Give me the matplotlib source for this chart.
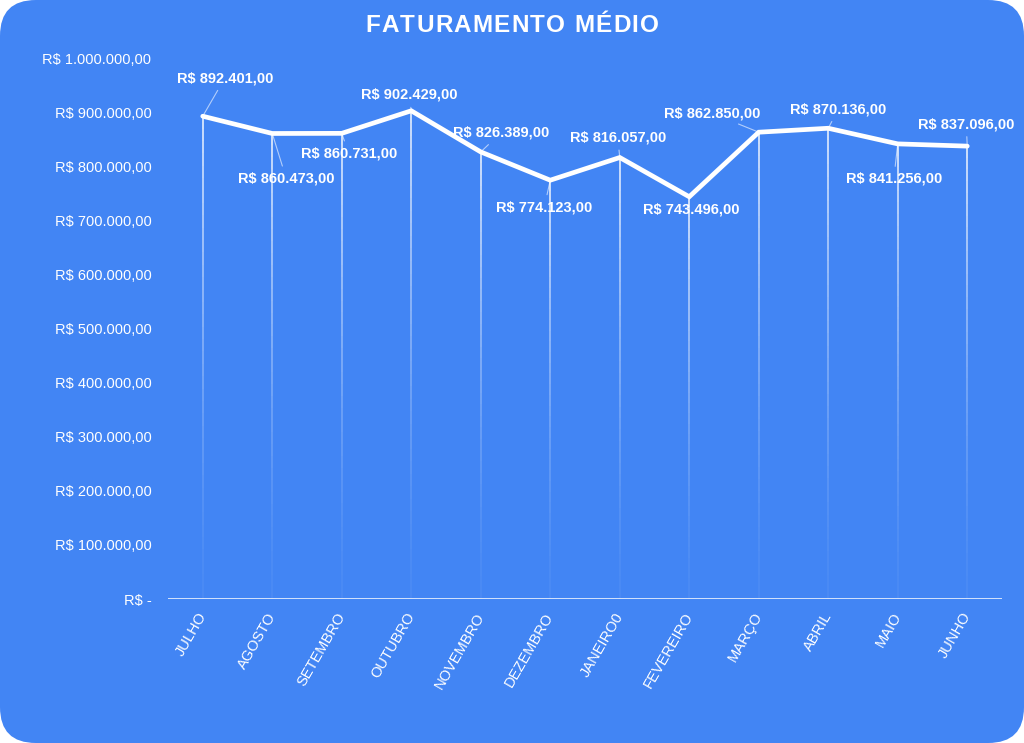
import numpy as np
import matplotlib.pyplot as plt
import matplotlib.transforms as mtransforms
from matplotlib.patches import FancyBboxPatch
from matplotlib.collections import LineCollection

# dados do gráfico
meses = ['JULHO', 'AGOSTO', 'SETEMBRO', 'OUTUBRO', 'NOVEMBRO', 'DEZEMBRO',
         'JANEIRO0', 'FEVEREIRO', 'MARÇO', 'ABRIL', 'MAIO', 'JUNHO']
faturamento = [892401, 860473, 860731, 902429, 826389, 774123,
               816057, 743496, 862850, 870136, 841256, 837096]
yticks = [0, 100000, 200000, 300000, 400000, 500000,
          600000, 700000, 800000, 900000, 1000000]
titulo = 'FATURAMENTO MÉDIO'

# deslocamento dos rótulos (pixels)
offsets = [(22, 38), (14, -45), (7, -20), (-2, 16), (20, 19), (-6, -27),
           (-2, 20), (2, -13), (-47, 19), (10, 19), (-4, -35), (-1, 22)]

azul = '#4285F4'
plt.rcParams['font.family'] = ['Liberation Sans', 'DejaVu Sans']


def moeda(v):
    if v == 0:
        return 'R$ -'
    s = f'{v:,.2f}'.replace(',', 'X').replace('.', ',').replace('X', '.')
    return 'R$ ' + s


def texto_espacado(fig, xc, yc, s, espaco, **kw):
    # desenha o texto letra a letra com espaçamento extra (pixels)
    r = fig.canvas.get_renderer()
    larg = []
    for c in s:
        t = fig.text(0, 0, c if c != ' ' else 'a', **kw)
        larg.append(t.get_window_extent(r).width * (0.55 if c == ' ' else 1))
        t.remove()
    total = sum(larg) + espaco * (len(s) - 1)
    W = fig.bbox.width
    x0 = xc * W - total / 2
    for c, w in zip(s, larg):
        if c != ' ':
            fig.text(x0 / W, yc, c, ha='left', va='center', **kw)
        x0 += w + espaco


fig = plt.figure(figsize=(10.24, 7.43), dpi=100, facecolor='white')
fundo = FancyBboxPatch((0, 0), 1, 1, boxstyle='round,pad=0,rounding_size=0.035',
                       transform=fig.transFigure, facecolor=azul, edgecolor='none',
                       mutation_aspect=1024 / 743, zorder=-10)
fig.patches.append(fundo)

ax = fig.add_axes([168 / 1024, 1 - 599 / 743, 834 / 1024, 541 / 743])
ax.set_facecolor('none')
x = np.arange(len(meses))
ax.set_xlim(-0.5, len(meses) - 0.5)
ax.set_ylim(0, 1000000)

# linhas verticais com degradê
segs, cores = [], []
for xi, yi in zip(x, faturamento):
    ys = np.linspace(0, yi, 40)
    for k in range(len(ys) - 1):
        segs.append([(xi, ys[k]), (xi, ys[k + 1])])
        a = 0.05 + 0.85 * (ys[k] / yi) ** 1.5
        cores.append((1, 1, 1, a))
ax.add_collection(LineCollection(segs, colors=cores, linewidths=1.2, zorder=1))

ax.plot(x, faturamento, color='white', lw=3.4, solid_joinstyle='miter',
        solid_capstyle='round', zorder=3)
ax.axhline(0, color='white', lw=1.8, zorder=2)

for xi, yi, (dx, dy) in zip(x, faturamento, offsets):
    ax.annotate(moeda(yi), (xi, yi), xytext=(dx, dy), textcoords='offset pixels',
                ha='center', va='center', color='white', fontsize=10.5,
                fontweight='bold', zorder=4,
                arrowprops=dict(arrowstyle='-', color=(1, 1, 1, 0.6), lw=0.8,
                                shrinkA=2, shrinkB=0))

ax.set_yticks(yticks)
ax.set_yticklabels([moeda(v) for v in yticks])
ax.set_xticks(x)
ax.set_xticklabels(meses, rotation=60, ha='right', rotation_mode='anchor')
ax.tick_params(axis='both', length=0, colors='white', labelsize=10.5)
ax.tick_params(axis='y', pad=12)
ax.tick_params(axis='x', pad=8)
desloc = mtransforms.ScaledTranslation(-6 / 100, 0, fig.dpi_scale_trans)
for lbl in ax.get_xticklabels():
    lbl.set_transform(lbl.get_transform() + desloc)
for s in ax.spines.values():
    s.set_visible(False)

texto_espacado(fig, 0.5, 1 - 25 / 743, titulo, 1.2, color='white',
               fontsize=17.5, fontweight='bold')

fig.savefig('out.png', dpi=100, facecolor='white')
